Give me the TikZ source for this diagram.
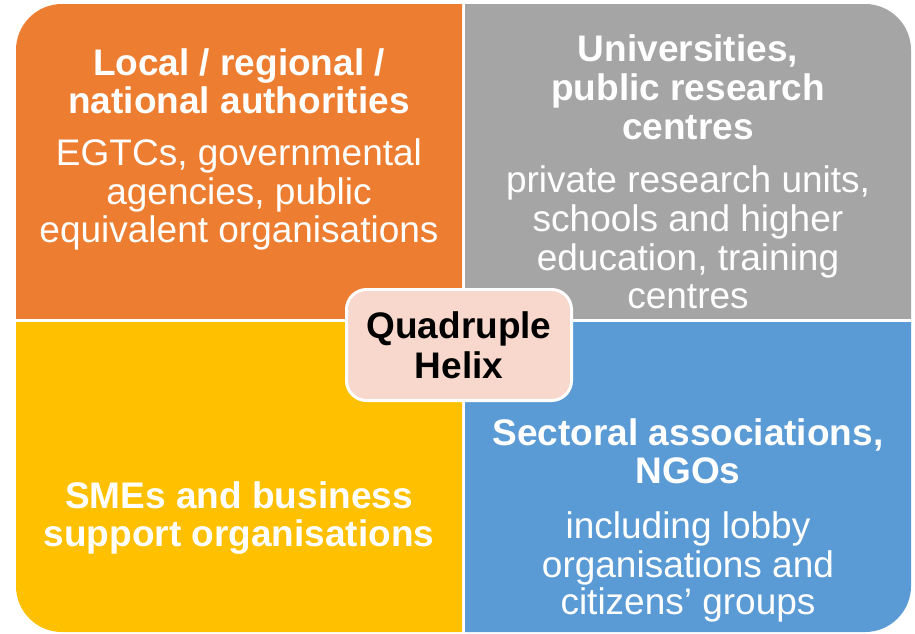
\documentclass[tikz,border=0pt]{standalone}
\usepackage{fontspec}
\setmainfont{Liberation Sans}
\definecolor{qorange}{HTML}{ED7D31}
\definecolor{qgray}{HTML}{A5A5A5}
\definecolor{qyellow}{HTML}{FFC000}
\definecolor{qblue}{HTML}{5B9BD5}
\definecolor{qpink}{HTML}{F8D8CD}
\begin{document}
\begin{tikzpicture}[x=1pt,y=-1pt,
  lbl/.style={inner sep=0pt, anchor=base, text=white, font=\fontsize{37}{39}\selectfont},
  hd/.style={lbl, font=\fontsize{37}{39}\selectfont\bfseries},
  ctr/.style={inner sep=0pt, anchor=base, text=black, font=\fontsize{37}{39}\selectfont\bfseries},
  quad/.style={rounded corners=46pt}]
\useasboundingbox (0,0) rectangle (915,633);
\fill[white] (0,0) rectangle (915,633);
% quadrants
\begin{scope}
  \clip (0,0) rectangle (462,318);
  \fill[qorange, quad] (16,4) rectangle (911,632);
\end{scope}
\begin{scope}
  \clip (465,0) rectangle (915,318);
  \fill[qgray, quad] (16,4) rectangle (911,632);
\end{scope}
\begin{scope}
  \clip (0,322) rectangle (462,633);
  \fill[qyellow, quad] (16,4) rectangle (911,632);
\end{scope}
\begin{scope}
  \clip (465,322) rectangle (915,633);
  \fill[qblue, quad] (16,4) rectangle (911,632);
\end{scope}
% orange texts
\node[hd] (o1) at (239,75) {Local / regional /};
\node[hd] (o2) at (239,113) {national authorities};
\node[lbl] (o3) at (239,165) {EGTCs, governmental};
\node[lbl] (o4) at (239,204) {agencies, public};
\node[lbl] (o5) at (239,242) {equivalent organisations};
% gray texts
\node[hd] (g1) at (688,61) {Universities,};
\node[hd] (g2) at (688,100) {public research};
\node[hd] (g3) at (688,139) {centres};
\node[lbl] (g4) at (688,192) {private research units,};
\node[lbl] (g5) at (688,231) {schools and higher};
\node[lbl] (g6) at (688,270) {education, training};
\node[lbl] (g7) at (688,308) {centres};
% yellow texts
\node[hd] (y1) at (239,508) {SMEs and business};
\node[hd] (y2) at (239,546) {support organisations};
% blue texts
\node[hd] (b1) at (688,445) {Sectoral associations,};
\node[hd] (b2) at (688,483) {NGOs};
\node[lbl] (b3) at (688,538) {including lobby};
\node[lbl] (b4) at (688,577) {organisations and};
\node[lbl] (b5) at (688,614) {citizens’ groups};
% centre
\node[draw=white, line width=3pt, fill=qpink, rounded corners=20pt,
      minimum width=225pt, minimum height=111pt, inner sep=0pt] (helix) at (459,345) {};
\node[ctr] (h1) at (459,338) {Quadruple};
\node[ctr] (h2) at (459,378) {Helix};
\end{tikzpicture}
\end{document}
